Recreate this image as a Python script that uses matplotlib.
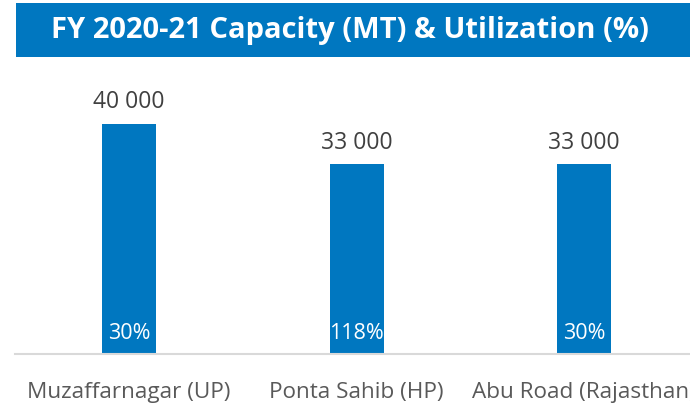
import matplotlib
matplotlib.use("Agg")
import matplotlib.pyplot as plt
from matplotlib.patches import Rectangle

categories = ["Muzaffarnagar (UP)", "Ponta Sahib (HP)", "Abu Road (Rajasthan)"]
capacity = [40000, 33000, 33000]
utilization = ["30%", "118%", "30%"]
title = "FY 2020-21 Capacity (MT) & Utilization (%)"

W, H = 690, 406
fig = plt.figure(figsize=(W / 100, H / 100), dpi=100)
plt.rcParams['font.family'] = ['Open Sans', 'DejaVu Sans']

blue = "#0077C0"

# title bar
fig.patches.append(Rectangle((16 / W, 1 - 58 / H), 1 - 16 / W, 54 / H,
                             transform=fig.transFigure, facecolor=blue,
                             edgecolor="none", zorder=0))
fig.text(350 / W, 1 - 30.5 / H, title, color="white", fontsize=21,
         fontweight="bold", ha="center", va="center")

left = 15.25 / W
width = 682.5 / W
bottom = 1 - 355 / H
top = 1 - 70 / H
ax = fig.add_axes([left, bottom, width, top - bottom])
ax.set_xlim(-0.5, 2.5)
ymax = 40000 * 285 / 230
ax.set_ylim(0, ymax)

x = list(range(len(categories)))
bars = ax.bar(x, capacity, width=54 / 227.5, color=blue, zorder=2)

for xi, v, u in zip(x, capacity, utilization):
    ax.annotate(f"{v:,}".replace(",", " "), (xi, v), xytext=(0, 12),
                textcoords="offset points", ha="center", va="baseline",
                fontsize=16.5, color="#404040")
    ax.annotate(u, (xi, 0), xytext=(0, 11.5), textcoords="offset points",
                ha="center", va="baseline", fontsize=15.5, color="white", zorder=3)

for s in ["top", "right", "left"]:
    ax.spines[s].set_visible(False)
ax.spines["bottom"].set_color("#D9D9D9")
ax.spines["bottom"].set_linewidth(1.5)
ax.set_yticks([])
ax.set_xticks(x)
ax.set_xticklabels(categories, fontsize=16.2, color="#595959")
ax.tick_params(axis="x", length=0, pad=19.5)
ax.set_facecolor("none")

fig.savefig("out.png", dpi=100)
